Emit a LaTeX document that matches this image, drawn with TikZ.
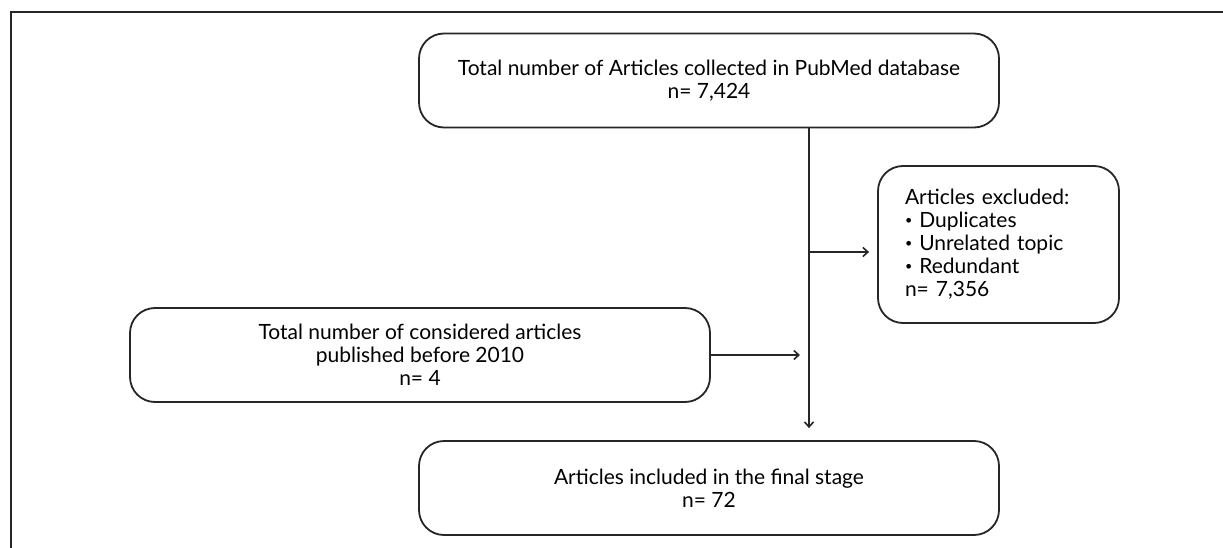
\documentclass[tikz,border=0pt]{standalone}
\usepackage{fontspec}
\setmainfont{Lato}
\usetikzlibrary{arrows.meta}
\newcommand{\boxfont}{\fontsize{21pt}{23pt}\selectfont}
\newcommand{\smallbullet}{\raisebox{0.28ex}{\scalebox{0.6}{\textbullet}}}
\begin{document}
\begin{tikzpicture}[x=1pt,y=-1pt,
  stagebox/.style={draw=black!85, line width=1.8pt, rounded corners=25pt, align=center,
    font=\boxfont, inner sep=0pt},
  conn/.style={draw=black!85, line width=1.8pt, -{Straight Barb[length=5pt,width=9pt,line width=1.6pt]}},
  frameline/.style={draw=black!85, line width=2pt}]
\useasboundingbox (0,0) rectangle (1223,548);
\draw[frameline] (11,548) -- (11,12) -- (1223,12);
\node[stagebox, minimum width=580pt, minimum height=94pt] (b1) at (709,80.5)
  {Total number of Articles collected in PubMed database\\n= 7,424};
\node[stagebox, minimum width=241pt, minimum height=157pt, text width=187pt, align=left] (b2) at (998.5,244.5)
  {Articles excluded:\\\smallbullet\ Duplicates\\\smallbullet\ Unrelated topic\\\smallbullet\ Redundant\\n= 7,356};
\node[stagebox, minimum width=580pt, minimum height=94pt] (b3) at (420,355)
  {Total number of considered articles\\published before 2010\\n= 4};
\node[stagebox, minimum width=580pt, minimum height=94pt] (b4) at (709,488)
  {Articles included in the final stage\\n= 72};
\coordinate (vx) at (809,0);
\coordinate (br) at (809,252);
\draw[conn, shorten >=12pt] (b1.south -| vx) -- (b4.north -| vx);
\draw[conn, shorten >=8pt] (br) -- (br -| b2.west);
\draw[conn, shorten >=9pt] (b3.east) -- (b3.east -| vx);
\end{tikzpicture}
\end{document}
